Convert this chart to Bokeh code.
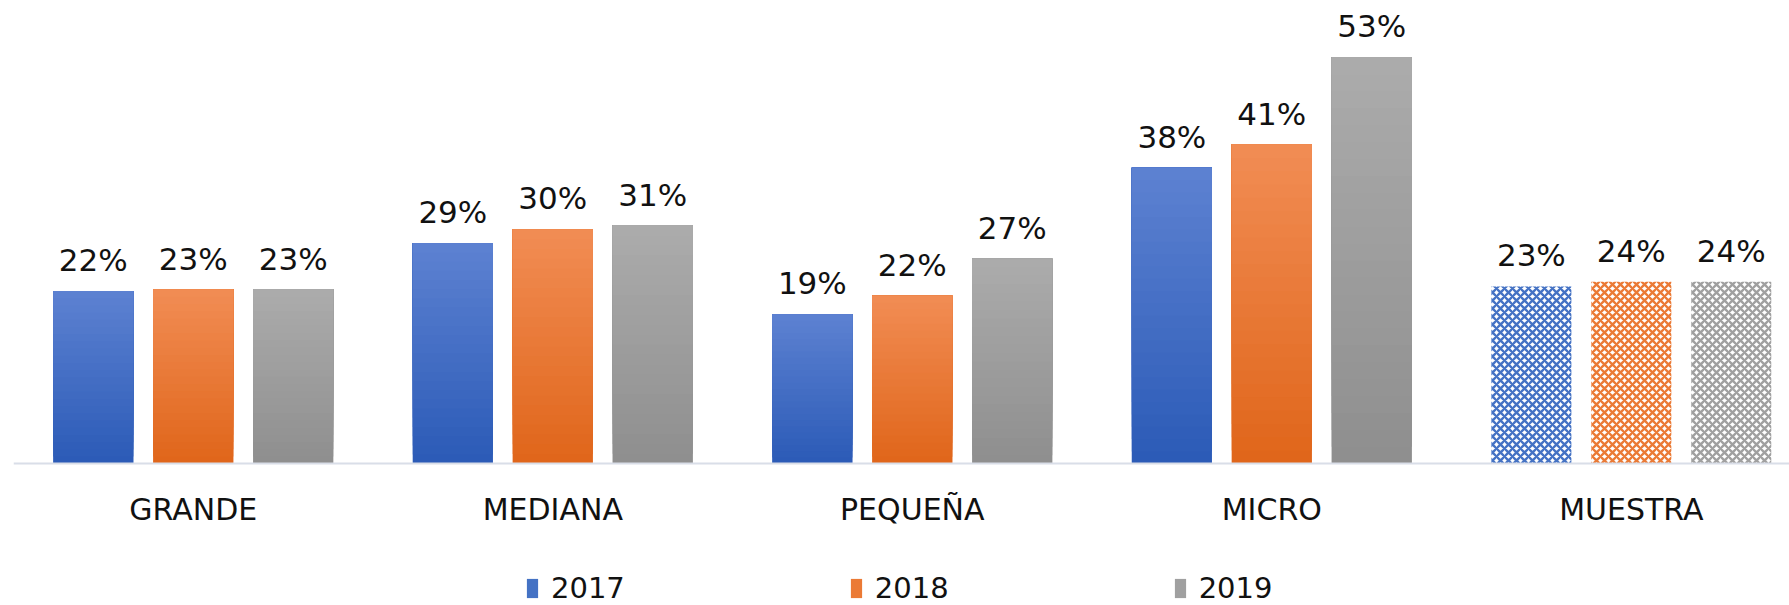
from bokeh.plotting import figure
from bokeh.models import ColumnDataSource, Range1d, FixedTicker
from bokeh.core.properties import value
from bokeh.embed import file_html
from bokeh.resources import INLINE

categories = ["GRANDE", "MEDIANA", "PEQUEÑA", "MICRO", "MUESTRA"]
years = ["2017", "2018", "2019"]
v2017 = [22.4, 28.6, 19.4, 38.4, 23.0]
v2018 = [22.6, 30.4, 21.8, 41.4, 23.6]
v2019 = [22.6, 30.9, 26.6, 52.7, 23.6]
patterned = [False, False, False, False, True]

series = [v2017, v2018, v2019]
colors = ["#4472c4", "#eb7a35", "#a0a0a0"]
tops = ["#5c81d1", "#f18c53", "#ababab"]
bottoms = ["#2c5bb7", "#e0661b", "#8f8f8f"]
offsets = [-0.278, 0.0, 0.278]
BAR_W = 0.2225
NSLICE = 24
FONT = "DejaVu Sans"


def hex2rgb(h):
    h = h.lstrip("#")
    return tuple(int(h[i:i + 2], 16) for i in (0, 2, 4))


def mix(c0, c1, t):
    a, b = hex2rgb(c0), hex2rgb(c1)
    return "#%02x%02x%02x" % tuple(int(round(a[i] + (b[i] - a[i]) * t)) for i in range(3))


p = figure(width=1789, height=605, output_backend="svg", toolbar_location=None,
           x_range=Range1d(-0.5, 4.44), y_range=Range1d(-18.38, 60.09),
           y_axis_location=None, min_border_left=13, min_border_right=0,
           min_border_top=0, min_border_bottom=0)
p.outline_line_color = None
p.grid.visible = False
p.background_fill_color = "white"

xs = list(range(len(categories)))
for yr, vals, col, ctop, cbot, off in zip(years, series, colors, tops, bottoms, offsets):
    src = ColumnDataSource(dict(
        x=[i + off for i in xs],
        top=vals,
        fill=[("white" if pt else col) for pt in patterned],
        hatch=[("x" if pt else " ") for pt in patterned],
        label=["{:.0f}%".format(v) for v in vals],
    ))
    p.vbar(x="x", top="top", bottom=0, width=BAR_W, source=src,
           fill_color="fill", line_color=None, hatch_pattern="hatch",
           hatch_color=col, hatch_scale=8, hatch_weight=2.3,
           legend_label=yr)
    # vertical gradient (darker at bottom, lighter at top) on solid bars
    gl, gr, gb, gt, gc = [], [], [], [], []
    for k in range(NSLICE):
        t = k / (NSLICE - 1)
        for i, v in enumerate(vals):
            if patterned[i]:
                continue
            gl.append(i + off - BAR_W / 2)
            gr.append(i + off + BAR_W / 2)
            gb.append(v * k / NSLICE)
            gt.append(v)
            gc.append(mix(cbot, ctop, t))
    p.quad(left=gl, right=gr, bottom=gb, top=gt, fill_color=gc, line_color=None)
    p.text(x="x", y="top", text="label", source=src, text_align="center",
           text_baseline="alphabetic", y_offset=-31,
           text_font=value(FONT), text_font_size="31px", text_color="#111111")

ax = p.xaxis[0]
ax.ticker = FixedTicker(ticks=xs)
ax.major_label_overrides = {i: c for i, c in zip(xs, categories)}
ax.fixed_location = 0
ax.axis_line_color = "#d9dee8"
ax.axis_line_width = 2
ax.major_tick_line_color = None
ax.minor_tick_line_color = None
ax.major_label_standoff = 22
ax.major_label_text_font = FONT
ax.major_label_text_font_size = "30px"
ax.major_label_text_color = "#111111"

lg = p.legend[0]
lg.location = (512, 0)
lg.orientation = "horizontal"
lg.border_line_color = None
lg.background_fill_alpha = 0
lg.padding = 0
lg.margin = 0
lg.spacing = 224
lg.glyph_width = 14
lg.glyph_height = 24
lg.label_standoff = 12
lg.label_text_font = FONT
lg.label_text_font_size = "29px"
lg.label_text_color = "#111111"

open("out.html", "w").write(file_html(p, INLINE))
